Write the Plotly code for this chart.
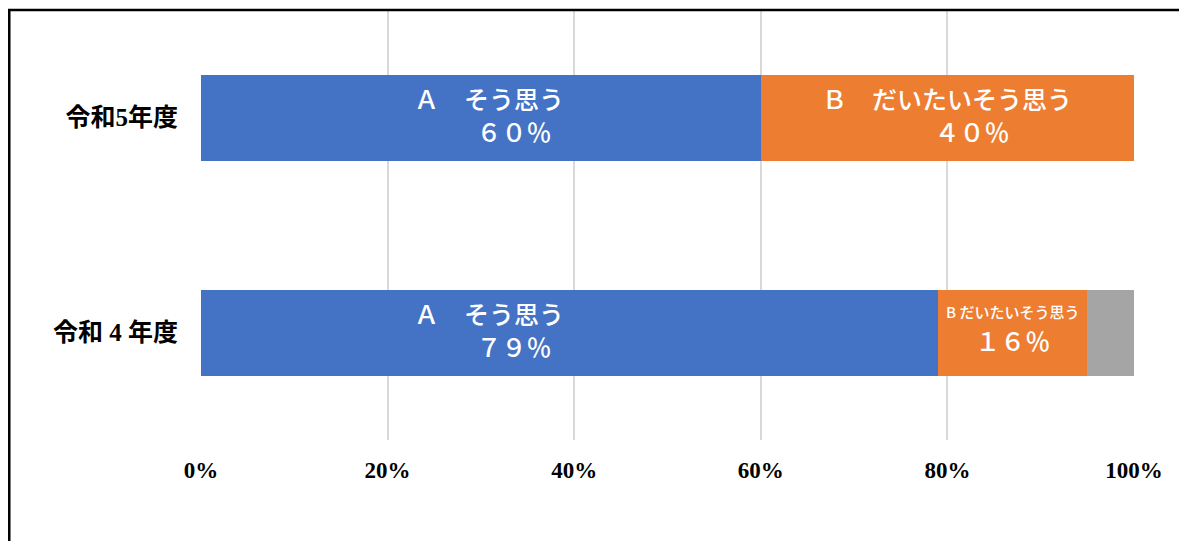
import plotly.graph_objects as go

# ---- data ----
categories = ["令和 4 年度", "令和5年度"]          # bottom -> top
series_names = ["A　そう思う", "B　だいたいそう思う", "その他"]
a_vals = [79, 60]
b_vals = [16, 40]
c_vals = [5, 0]
x_ticks = [0, 20, 40, 60, 80, 100]
x_tick_labels = ["0%", "20%", "40%", "60%", "80%", "100%"]

colors = ["#4472C4", "#ED7D31", "#A5A5A5"]

FW = str.maketrans("0123456789%", "０１２３４５６７８９％")


def fw(v):
    return f"{v}%".translate(FW)


fig = go.Figure()
for name, vals, col in zip(series_names, [a_vals, b_vals, c_vals], colors):
    fig.add_trace(go.Bar(
        y=categories, x=vals, name=name, orientation="h",
        marker=dict(color=col, line=dict(width=0)),
        hoverinfo="x+name",
    ))

annotations = []
label_font = dict(family="Noto Sans CJK JP", size=25, color="white", weight=500)
# A labels (aligned at the centre of the shorter A segment, as in the source)
a_label_x = min(a_vals) / 2
for cat, a in zip(categories, a_vals):
    annotations.append(dict(
        x=a_label_x, y=cat, xref="x", yref="y", showarrow=False,
        text="Ａ　そう思う<br>　　" + fw(a), font=label_font,
        xshift=8, yshift=3,
    ))
# B labels
for cat, a, b in zip(categories, a_vals, b_vals):
    cx = a + b / 2
    if b >= 30:
        txt = "Ｂ　だいたいそう思う<br>　　" + fw(b)
    else:
        txt = "<span style='font-size:15px'>B だいたいそう思う</span><br>" + fw(b)
    annotations.append(dict(
        x=cx, y=cat, xref="x", yref="y", showarrow=False,
        text=txt, font=label_font, yshift=3,
    ))

border = dict(color="black", width=2.5)
fig.update_layout(
    width=1171, height=533,
    margin=dict(l=193, r=45, t=2, b=101),
    barmode="stack", bargap=0.6,
    showlegend=False,
    paper_bgcolor="white", plot_bgcolor="white",
    annotations=annotations,
    xaxis=dict(
        range=[0, 100], tickvals=x_ticks, ticktext=x_tick_labels,
        showgrid=True, gridcolor="#D9D9D9", gridwidth=2,
        zeroline=False, showline=False, ticks="",
        ticklabelstandoff=14,
        tickfont=dict(family="Liberation Serif", size=23, color="black", weight="bold"),
        fixedrange=True,
    ),
    yaxis=dict(
        showgrid=False, zeroline=False, showline=False, ticks="",
        ticklabelstandoff=22,
        tickfont=dict(family="Liberation Serif, Noto Sans CJK JP", size=25,
                      color="black", weight="bold"),
        fixedrange=True,
    ),
    shapes=[
        dict(type="line", xref="paper", yref="paper",
             x0=-0.2055, x1=-0.2055, y0=-0.5, y1=1.0015, line=border, layer="above"),
        dict(type="line", xref="paper", yref="paper",
             x0=-0.2069, x1=1.2, y0=1.0, y1=1.0, line=border, layer="above"),
    ],
)

fig.write_html("out.html")
